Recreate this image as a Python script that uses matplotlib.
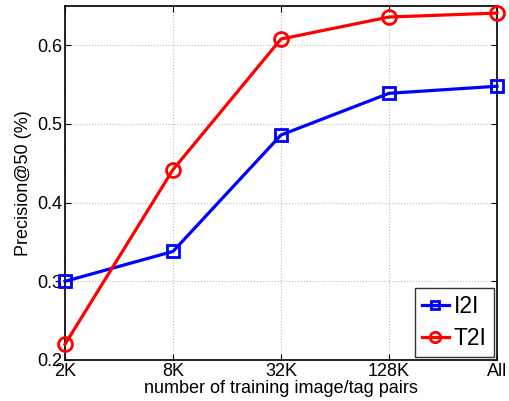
import matplotlib
matplotlib.use("Agg")
import matplotlib.pyplot as plt

categories = ["2K", "8K", "32K", "128K", "All"]
i2i = [0.300, 0.338, 0.486, 0.539, 0.548]
t2i = [0.220, 0.442, 0.608, 0.636, 0.641]
yticks = [0.2, 0.3, 0.4, 0.5, 0.6]

plt.rcParams['font.family'] = ['Liberation Sans', 'DejaVu Sans']

fig = plt.figure(figsize=(5.10, 4.01), dpi=100)
ax = fig.add_axes([65/510, 1 - 360/401, (497-65)/510, (360-6)/401])

x = list(range(len(categories)))
ax.plot(x, i2i, color='#0000ff', lw=2.3, marker='s', ms=8, mfc='none', mew=2.0, label='I2I', clip_on=False, zorder=3)
ax.plot(x, t2i, color='#ff0000', lw=2.3, marker='o', ms=10, mfc='none', mew=2.0, label='T2I', clip_on=False, zorder=3)

ax.set_xlim(0, 4)
ax.set_ylim(0.2, 0.65)
ax.set_xticks(x)
ax.set_xticklabels(categories)
ax.set_yticks(yticks)
ax.set_yticklabels([f"{v:.1f}" for v in yticks])
ax.tick_params(direction='in', top=True, right=True, labelsize=13, length=4, width=0.8, pad=2)
ax.grid(True, linestyle=':', color='#bbbbbb', lw=0.8)
for s in ax.spines.values():
    s.set_linewidth(1.3)
    s.set_color('#111111')

ax.set_xlabel("number of training image/tag pairs", fontsize=13, labelpad=0)
ax.set_ylabel("Precision@50 (%)", fontsize=13, labelpad=4)

leg = ax.legend(loc='lower right', fontsize=16.5, fancybox=False, edgecolor='black',
                handlelength=1.2, handletextpad=0.2, borderpad=0.3, labelspacing=0.4,
                borderaxespad=0.15, markerscale=0.75)
leg.get_frame().set_linewidth(1.0)

fig.savefig("out.png", dpi=100)
